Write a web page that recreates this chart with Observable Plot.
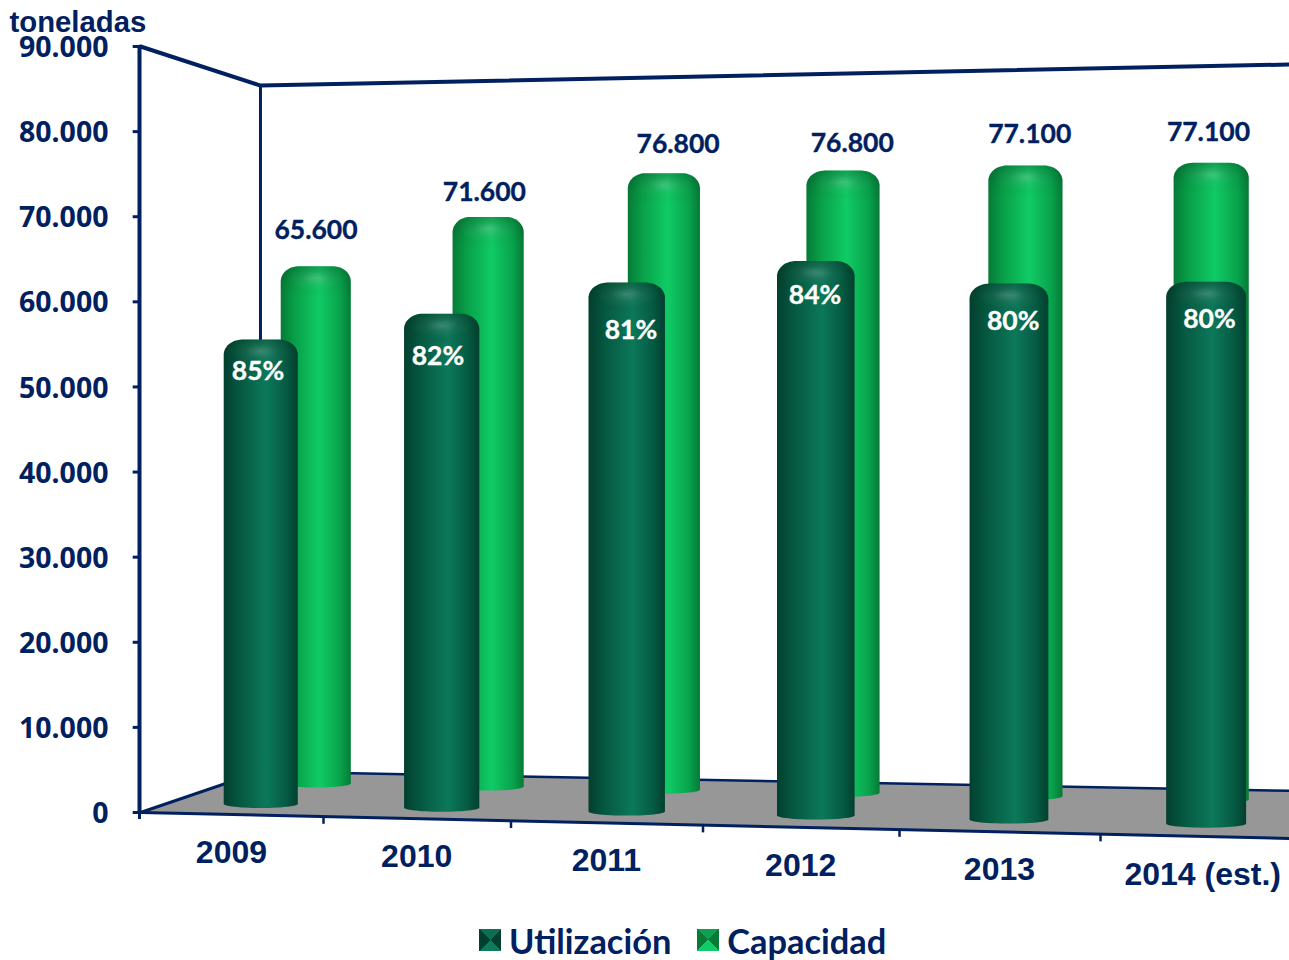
<!DOCTYPE html>
<html lang="es">
<head>
<meta charset="utf-8">
<title>Capacidad y utilización</title>
<script src="https://cdn.jsdelivr.net/npm/d3@7"></script>
<script src="https://cdn.jsdelivr.net/npm/@observablehq/plot@0.6"></script>
<style>
  html, body { margin: 0; padding: 0; background: #fff; }
  svg { display: block; }
  .legend { display: flex; align-items: center; height: 40px; margin-left: 479px;
            font: 700 34.4px Lato, sans-serif; color: #002060; }
  .legend i { display: block; width: 22px; height: 22px; margin-right: 8px; }
  .legend span { margin-right: 26px; }
</style>
</head>
<body>
<div id="chart"></div>
<script>
// Yearly tonnage: installed capacity and the share of it in use.
const years = ["2009", "2010", "2011", "2012", "2013", "2014 (est.)"];
const capacity = [65600, 71600, 76800, 76800, 77100, 77100];
const utilizationPct = [85, 82, 81, 84, 80, 80];
const yTicks = [0, 10000, 20000, 30000, 40000, 50000, 60000, 70000, 80000, 90000];
const legendLabels = ["Utilización", "Capacidad"];

const NAVY = "#002060";
const fmt = d3.formatLocale({decimal: ",", thousands: ".", grouping: [3], currency: ["", ""]}).format(",d");

// Perspective of the scene, in chart units: x in year slots, y in tonnes.
const vanish = {x: 6.28, y: 46050};
const depth = {
  front: i => 0.027 + 0.0008 * i,
  back: i => 0.079 + 0.002 * i,
  wallLeft: 0.1044,
  wallRight: 0.115
};
const slotX = u => u + 0.0123 * u * (u - 1);
const project = (u, t, v) => {
  const X = slotX(u);
  const Y = -486 * X + v * (1 + 0.0112 * X);
  return {x: X + t * (vanish.x - X), y: Y + t * (vanish.y - Y)};
};

// Outline of one cylinder: rounded shoulders at the top, elliptical foot below.
function outline(i, t, value, capOnly) {
  const id = i, u = i + 0.5;
  const foot = project(u, t, 0), head = project(u, t, value);
  const hw = (0.208 + 0.0035 * i) * (1 - t);
  const rx = hw * 0.5, ry = 1800, footRy = capOnly ? 0 : 480;
  const cx = foot.x + 0.004, top = head.y, base = capOnly ? top - 3800 : foot.y;
  const pts = [];
  const N = 14;
  for (let k = 0; k <= N; k++) {
    const a = Math.PI / 2 * k / N;
    pts.push({id, x: cx - hw + rx * (1 - Math.cos(a)), y: top - ry * (1 - Math.sin(a))});
  }
  for (let k = 0; k <= N; k++) {
    const a = Math.PI / 2 * k / N;
    pts.push({id, x: cx + hw - rx * (1 - Math.sin(a)), y: top - ry * (1 - Math.cos(a))});
  }
  for (let k = 0; k <= 2 * N; k++) {
    const a = Math.PI * k / (2 * N);
    pts.push({id, x: cx + hw * Math.cos(a), y: base - footRy * Math.sin(a)});
  }
  return pts;
}

const utilization = capacity.map((c, i) => c * utilizationPct[i] / 100);

const backBars = capacity.flatMap((v, i) => outline(i, depth.back(i), v));
const frontBars = utilization.flatMap((v, i) => outline(i, depth.front(i), v));
const backCaps = capacity.flatMap((v, i) => outline(i, depth.back(i), v, true));
const frontCaps = utilization.flatMap((v, i) => outline(i, depth.front(i), v, true));

const floor = [project(0, 0, 0), project(0, depth.wallLeft, 0), project(6.4, depth.wallRight, 0), project(6.4, 0, 0)];
const frontEdge = [project(0, 0, 0), project(6.4, 0, 0)];
const backEdge = [project(0, depth.wallLeft, 0), project(6.4, depth.wallRight, 0)];
const sideEdge = [project(0, 0, 0), project(0, depth.wallLeft, 0)];
const wallTop = [project(0, 0, 90000), project(0, depth.wallLeft, 90000), project(6.4, depth.wallRight, 90000)];
const wallPost = [project(0, depth.wallLeft, 0), project(0, depth.wallLeft, 90000)];
const slotTicks = d3.range(1, 6).map(u => project(u, 0, 0));

// Hand placement of the value labels relative to their bars, in px.
const capLabelNudge = [[1, -36], [-3, -24], [15, -29], [10, -27], [5, -31], [-2, -30]];
const pctLabelNudge = [[-2, 32], [-3, 43], [5, 48], [0, 35], [5, 38], [4, 38]];

const capLabels = capacity.map((v, i) => ({...project(i + 0.5, depth.back(i), v), text: fmt(v), nudge: capLabelNudge[i]}));
const pctLabels = utilization.map((v, i) => ({...project(i + 0.5, depth.front(i), v), text: utilizationPct[i] + "%", nudge: pctLabelNudge[i]}));
const yearLabels = years.map((y, i) => ({...project(i + 0.5, 0, 0), text: y}));

const gradient = (defs, id, stops) => {
  const g = defs.append("linearGradient").attr("id", id);
  stops.forEach(([o, c]) => g.append("stop").attr("offset", o).attr("stop-color", c));
};
const shading = () => {
  const defs = d3.create("svg:defs");
  gradient(defs, "cylFront", [[0, "#033f2e"], [0.2, "#05573f"], [0.58, "#0c785a"], [0.85, "#055a42"], [1, "#02402f"]]);
  gradient(defs, "cylBack", [[0, "#067a36"], [0.2, "#08a049"], [0.55, "#10cb65"], [0.85, "#08a34c"], [1, "#067a36"]]);
  // darker rim along the top of each cylinder
  const rim = defs.append("linearGradient").attr("id", "capRim").attr("x1", 0).attr("x2", 0).attr("y1", 0).attr("y2", 1);
  rim.append("stop").attr("offset", 0).attr("stop-color", "#003318").attr("stop-opacity", 0.28);
  rim.append("stop").attr("offset", 0.55).attr("stop-color", "#003318").attr("stop-opacity", 0.06);
  rim.append("stop").attr("offset", 1).attr("stop-color", "#003318").attr("stop-opacity", 0);
  // soft highlight just under the rim
  const glow = defs.append("radialGradient").attr("id", "capGlow").attr("cx", 0.5).attr("cy", 0.36).attr("r", 0.42);
  glow.append("stop").attr("offset", 0).attr("stop-color", "#fff").attr("stop-opacity", 0.2);
  glow.append("stop").attr("offset", 0.5).attr("stop-color", "#fff").attr("stop-opacity", 0.05);
  glow.append("stop").attr("offset", 1).attr("stop-color", "#fff").attr("stop-opacity", 0);
  return defs.node();
};

const labelGroup = (rows, fill) => rows.map(d => Plot.text([d], {
  x: "x", y: "y", text: "text", dx: d.nudge[0], dy: d.nudge[1],
  fontFamily: "Lato", fontWeight: "bold", fontSize: 26.5, fill, stroke: fill, strokeWidth: 0.35
}));

const cylinder = (bars, caps, fill) => [
  Plot.line(bars, {x: "x", y: "y", z: "id", fill, stroke: "none"}),
  Plot.line(caps, {x: "x", y: "y", z: "id", fill: "url(#capRim)", stroke: "none"}),
  Plot.line(caps, {x: "x", y: "y", z: "id", fill: "url(#capGlow)", stroke: "none"})
];

const plot = Plot.plot({
  width: 1289,
  height: 920,
  marginLeft: 140,
  marginRight: 51,
  marginTop: 46,
  marginBottom: 108,
  x: {domain: [0, 6], axis: null},
  y: {domain: [0, 90000], axis: null},
  marks: [
    shading,
    // back wall and floor
    Plot.line(floor, {x: "x", y: "y", fill: "#979797", stroke: "none"}),
    Plot.line(wallPost, {x: "x", y: "y", stroke: NAVY, strokeWidth: 3}),
    Plot.line(wallTop, {x: "x", y: "y", stroke: NAVY, strokeWidth: 4}),
    Plot.line(backEdge, {x: "x", y: "y", stroke: NAVY, strokeWidth: 2.5}),
    Plot.line(sideEdge, {x: "x", y: "y", stroke: NAVY, strokeWidth: 3}),
    Plot.line(frontEdge, {x: "x", y: "y", stroke: NAVY, strokeWidth: 3}),
    Plot.ruleX([0], {y1: 0, y2: 90000, stroke: NAVY, strokeWidth: 4, dx: -1}),
    // tick marks and their labels, the labels sitting a little below each tick
    Plot.ruleY(yTicks, {x1: -0.04, x2: 0, stroke: NAVY, strokeWidth: 3}),
    Plot.axisY({
      ticks: yTicks, tickFormat: fmt, tickSize: 0, tickPadding: 32, dy: 1.5,
      color: NAVY, fontFamily: "Noto Sans", fontWeight: "bold", fontSize: 28.5, label: null
    }),
    Plot.ruleX([0], {y1: 0, y2: -820, stroke: NAVY, strokeWidth: 3, dx: -1}),
    Plot.ruleX(slotTicks, {x: "x", y1: "y", y2: d => d.y - 900, stroke: NAVY, strokeWidth: 2.5}),
    // capacity cylinders sit behind the utilization ones
    ...cylinder(backBars, backCaps, "url(#cylBack)"),
    ...cylinder(frontBars, frontCaps, "url(#cylFront)"),
    ...labelGroup(capLabels, NAVY),
    ...labelGroup(pctLabels, "#fff"),
    Plot.text(yearLabels, {
      x: "x", y: "y", text: "text", dy: 38,
      fontFamily: "Liberation Sans", fontWeight: "bold", fontSize: 32, fill: NAVY
    }),
    Plot.text(["toneladas"], {
      x: [0], y: [90000], dx: -131, dy: -24, textAnchor: "start",
      fontFamily: "Liberation Sans", fontWeight: "bold", fontSize: 29.3, fill: NAVY
    })
  ]
});
document.getElementById("chart").append(plot);

// Legend below the drawing, with bevelled swatches.
const swatch = (top, side, bottom) =>
  `conic-gradient(from -45deg, ${top} 0 25%, ${side} 25% 50%, ${bottom} 50% 75%, ${side} 75% 100%)`;
const swatches = [swatch("#0f6f55", "#033f2e", "#0f7a5c"), swatch("#10a052", "#067a36", "#12cb68")];
const legend = d3.select("body").append("div").attr("class", "legend");
legendLabels.forEach((label, i) => {
  legend.append("i").style("background", swatches[i]);
  legend.append("span").text(label);
});
</script>
</body>
</html>
